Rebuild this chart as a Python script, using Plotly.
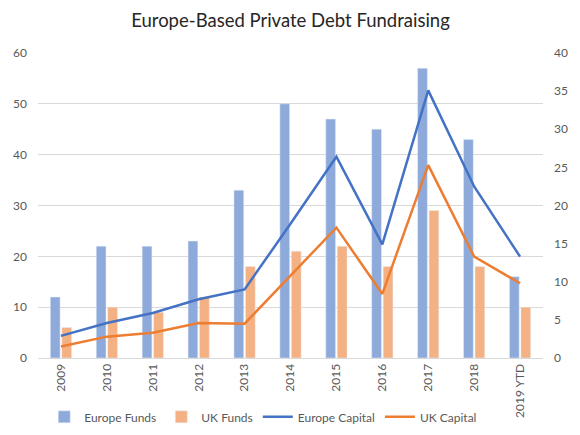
import plotly.graph_objects as go

# data
years = ["2009", "2010", "2011", "2012", "2013", "2014", "2015", "2016", "2017", "2018", "2019 YTD"]
europe_funds = [12, 22, 22, 23, 33, 50, 47, 45, 57, 43, 16]
uk_funds = [6, 10, 9, 12, 18, 21, 22, 18, 29, 18, 10]
europe_capital = [2.9, 4.6, 5.9, 7.7, 9.0, 17.6, 26.4, 14.9, 35.1, 22.5, 13.3]
uk_capital = [1.5, 2.8, 3.3, 4.6, 4.5, 10.8, 17.1, 8.4, 25.3, 13.3, 9.8]

font = "Lato, Noto Sans, sans-serif"

fig = go.Figure()
fig.add_trace(go.Bar(x=years, y=europe_funds, name="Europe Funds", marker_color="#8EAADB"))
fig.add_trace(go.Bar(x=years, y=uk_funds, name="UK Funds", marker_color="#F4B183"))
fig.add_trace(go.Scatter(x=years, y=europe_capital, name="Europe Capital", mode="lines",
                         line=dict(color="#4472C4", width=2.5), yaxis="y2"))
fig.add_trace(go.Scatter(x=years, y=uk_capital, name="UK Capital", mode="lines",
                         line=dict(color="#ED7D31", width=2.5), yaxis="y2"))

# page body has an 8px margin, so offsets are shifted by that
fig.update_layout(
    width=580, height=435,
    margin=dict(l=30, r=45, t=45, b=85),
    paper_bgcolor="white", plot_bgcolor="white",
    font=dict(family=font, size=12, color="#595959"),
    title=dict(text="Europe-Based Private Debt Fundraising", x=0.5, y=0.971,
               xanchor="center", yanchor="middle", xref="paper",
               font=dict(size=18.5, color="#262626", family=font)),
    barmode="group", bargap=0.5, bargroupgap=0.15,
    legend=dict(orientation="h", x=0.446, y=-0.193, xanchor="center", yanchor="middle",
                font=dict(size=12, color="#595959"), traceorder="normal",
                bgcolor="rgba(0,0,0,0)", itemwidth=30),
    xaxis=dict(tickangle=-90, showgrid=False, showline=True, linecolor="#d9d9d9",
               ticks="", automargin=False),
    yaxis=dict(range=[0, 60], dtick=10, showgrid=True, gridcolor="#d9d9d9",
               zeroline=False, ticks="", automargin=False, ticklabelstandoff=10),
    yaxis2=dict(range=[0, 40], dtick=5, overlaying="y", side="right", showgrid=False,
                zeroline=False, ticks="", automargin=False, ticklabelstandoff=10),
)

fig.write_html("out.html")
